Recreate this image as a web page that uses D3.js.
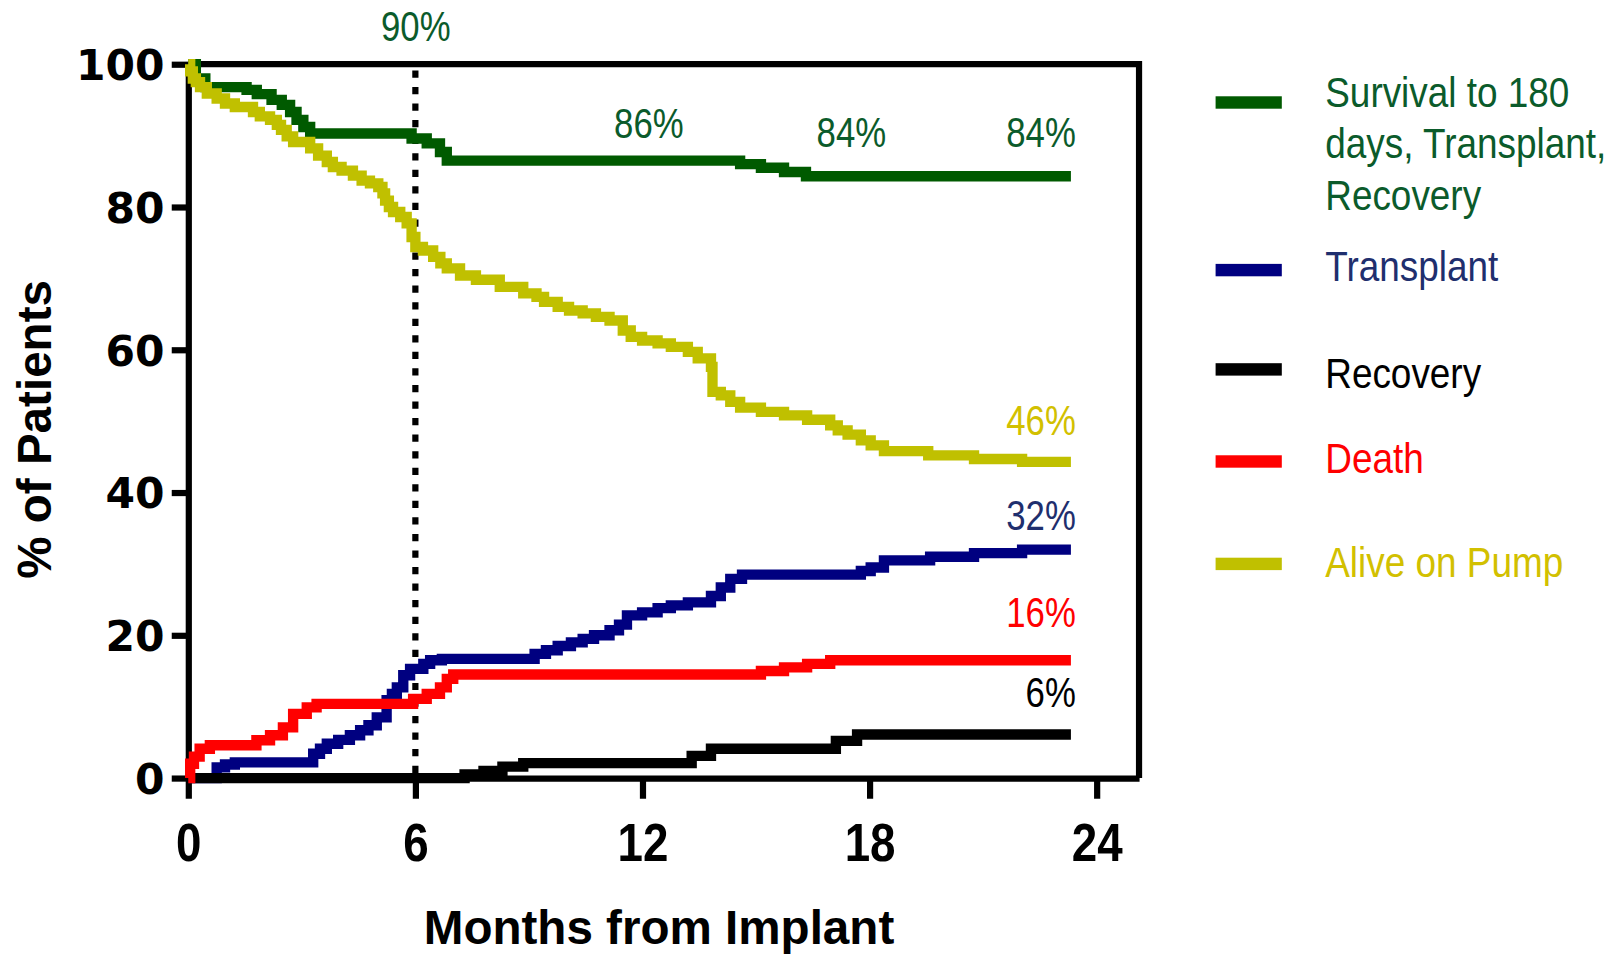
<!DOCTYPE html>
<html lang="en">
<head>
<meta charset="UTF-8">
<title>Outcomes after implant</title>
<style>
  body { margin: 0; background: #fff; }
  svg { display: block; }
</style>
</head>
<body>
<script src="https://cdn.jsdelivr.net/npm/d3@7/dist/d3.min.js"></script>
<div id="chart"></div>
<script>
// tick values
const xTicks = [0, 6, 12, 18, 24];
const yTicks = [0, 20, 40, 60, 80, 100];

// curves: [month, % of patients]
const survival = [[0,100],[0.2,98],[0.45,96.8],[1.54,96.4],[1.81,95.8],[2.2,95.0],[2.47,94.3],[2.69,93.3],[2.86,92.2],[3.04,91.2],[3.22,90.3],[5.9,89.6],[6.3,88.9],[6.65,87.7],[6.83,86.5],[14.58,86.0],[15.13,85.5],[15.74,84.9],[16.32,84.3],[23.32,84.3]];
const transplant = [[0,0],[0.75,1.5],[0.97,1.9],[1.23,2.2],[3.3,3.4],[3.48,4.1],[3.66,4.8],[3.96,5.35],[4.27,6.0],[4.54,6.7],[4.76,7.4],[4.98,8.5],[5.24,10.9],[5.38,11.8],[5.51,12.7],[5.68,14.4],[5.86,15.3],[6.21,16.0],[6.39,16.5],[6.7,16.7],[9.15,17.4],[9.45,17.9],[9.76,18.5],[10.11,19.0],[10.42,19.5],[10.72,20.0],[11.13,20.7],[11.38,21.5],[11.59,22.8],[11.99,23.2],[12.4,23.8],[12.75,24.2],[13.2,24.6],[13.81,25.5],[14.07,26.7],[14.32,27.9],[14.63,28.5],[17.77,29.0],[18.03,29.5],[18.38,30.5],[19.6,31.0],[20.76,31.5],[22.03,32.0],[23.32,32.0]];
const recovery = [[0,0],[7.3,0.5],[7.8,1.0],[8.3,1.6],[8.85,2.1],[13.3,3.1],[13.81,4.1],[17.11,5.2],[17.67,6.1],[23.32,6.1]];
const death = [[0,0],[0.05,2],[0.15,3],[0.3,4.1],[0.57,4.6],[1.8,5.3],[2.16,6.0],[2.5,7.1],[2.77,9.0],[3.13,9.9],[3.39,10.4],[5.94,11.1],[6.3,11.8],[6.65,12.7],[6.83,13.9],[7.0,14.5],[15.13,15.0],[15.74,15.5],[16.35,16.0],[16.96,16.5],[23.32,16.5]];
const alive = [[0,100],[0.05,99],[0.12,98],[0.2,97.5],[0.31,96.8],[0.49,95.9],[0.75,95.2],[0.97,94.5],[1.23,94.0],[1.71,93.3],[1.89,92.7],[2.16,92.2],[2.34,91.5],[2.45,90.8],[2.6,89.9],[2.77,89.1],[3.22,88.2],[3.43,87.2],[3.66,86.3],[3.82,85.6],[4.05,85.1],[4.35,84.4],[4.58,83.7],[4.8,83.3],[5.02,82.8],[5.13,81.9],[5.2,80.9],[5.3,80.0],[5.41,79.3],[5.6,78.6],[5.77,77.7],[5.9,75.8],[6.0,74.4],[6.2,73.9],[6.47,73.0],[6.66,72.1],[6.83,71.4],[7.18,70.4],[7.6,69.8],[8.23,68.8],[8.85,67.9],[9.2,67.4],[9.4,66.7],[9.76,66.0],[10.06,65.5],[10.42,65.1],[10.77,64.6],[11.13,64.1],[11.48,62.7],[11.69,61.8],[11.99,61.3],[12.4,60.9],[12.75,60.4],[13.2,59.7],[13.46,58.8],[13.81,57.6],[13.85,54.1],[14.07,53.6],[14.32,52.7],[14.58,51.9],[15.13,51.3],[15.74,50.8],[16.35,50.2],[16.96,49.4],[17.16,48.7],[17.42,48.1],[17.77,47.3],[18.03,46.6],[18.38,45.8],[19.55,45.2],[20.76,44.7],[22.03,44.3],[23.32,44.3]];

// percentage call-outs: text, month, % (anchor point)
const callouts = [
  ["90%", 6.01, 103.2, "middle", "green"],
  ["86%", 12.17, 89.6, "middle", "green"],
  ["84%", 17.52, 88.4, "middle", "green"],
  ["84%", 23.45, 88.4, "end", "green"],
  ["46%", 23.45, 48.0, "end", "alive"],
  ["32%", 23.45, 34.8, "end", "transplant"],
  ["16%", 23.45, 21.2, "end", "death"],
  ["6%", 23.45, 10.0, "end", "recovery"]
];

const legendLabels = [
  ["Survival to 180", "days, Transplant,", "Recovery"],
  ["Transplant"],
  ["Recovery"],
  ["Death"],
  ["Alive on Pump"]
];

// colours
const lineColor = {green: "#005a00", transplant: "#000080", recovery: "#000000", death: "#ff0000", alive: "#c0c000"};
const textColor = {green: "#0b5b2b", transplant: "#1f2f6e", recovery: "#000000", death: "#ff0000", alive: "#d2c000"};

// drawn in the picture's own scale, then stretched to the window
const W = 1563, H = 922;
const svg = d3.select("#chart").append("svg")
  .attr("width", 1617).attr("height", 954)
  .attr("viewBox", `0 0 ${W} ${H}`);

const x = d3.scaleLinear().domain([0, 25.12]).range([182, 1101]);
const y = d3.scaleLinear().domain([0, 100]).range([752, 62]);

const narrow = "'Liberation Sans', Arial, sans-serif";

// frame (top and right)
svg.append("path")
  .attr("d", `M${x(0)},${y(100)}H${x(25.12)}V${y(0)}`)
  .attr("fill", "none").attr("stroke", "#000").attr("stroke-width", 6);

// 6 month marker
svg.append("line")
  .attr("x1", x(6)).attr("x2", x(6))
  .attr("y1", y(100) + 6).attr("y2", y(0))
  .attr("stroke", "#000").attr("stroke-width", 6)
  .attr("stroke-dasharray", "7,9");

// y axis
const yAxis = svg.append("g")
  .attr("transform", `translate(${x(0)},0)`)
  .call(d3.axisLeft(y).tickValues(yTicks).tickSize(16).tickSizeOuter(0).tickPadding(7));
yAxis.select(".domain").attr("stroke-width", 6);
yAxis.selectAll(".tick line").attr("stroke-width", 6);
yAxis.selectAll(".tick text")
  .attr("font-family", "'DejaVu Sans', sans-serif")
  .attr("font-weight", "bold")
  .attr("font-size", 41)
  .attr("dy", "0.36em")
  .attr("fill", "#000");

// x axis
const xAxis = svg.append("g")
  .attr("transform", `translate(0,${y(0)})`)
  .call(d3.axisBottom(x).tickValues(xTicks).tickSize(20).tickSizeOuter(0));
xAxis.select(".domain").attr("stroke-width", 6);
xAxis.selectAll(".tick line").attr("stroke-width", 6);
xAxis.selectAll(".tick text")
  .attr("y", 0).attr("dy", 0)
  .attr("transform", "translate(0,80) scale(0.85,1)")
  .attr("font-family", narrow)
  .attr("font-weight", "bold")
  .attr("font-size", 52)
  .attr("fill", "#000");

// axis titles
svg.append("text")
  .attr("transform", `translate(49,415) rotate(-90)`)
  .attr("text-anchor", "middle")
  .attr("font-family", narrow).attr("font-weight", "bold").attr("font-size", 46)
  .text("% of Patients");
svg.append("text")
  .attr("x", 637).attr("y", 912)
  .attr("text-anchor", "middle")
  .attr("font-family", narrow).attr("font-weight", "bold").attr("font-size", 46)
  .text("Months from Implant");

// curves
const line = d3.line().x(d => x(d[0])).y(d => y(d[1])).curve(d3.curveStepAfter);
const curves = [[survival, "green"], [transplant, "transplant"], [recovery, "recovery"], [death, "death"], [alive, "alive"]];
svg.append("g").selectAll("path")
  .data(curves)
  .join("path")
  .attr("d", d => line(d[0]))
  .attr("fill", "none")
  .attr("stroke", d => lineColor[d[1]])
  .attr("stroke-width", 10)
  .attr("stroke-linejoin", "miter");

// call-outs
svg.append("g").selectAll("text")
  .data(callouts)
  .join("text")
  .attr("transform", d => `translate(${x(d[1])},${y(d[2])}) scale(0.82,1)`)
  .attr("text-anchor", d => d[3])
  .attr("font-family", narrow).attr("font-size", 41)
  .attr("fill", d => textColor[d[4]])
  .text(d => d[0]);

// legend
const legendKeys = ["green", "transplant", "recovery", "death", "alive"];
const swatchY = [99, 261, 357, 446, 545];
const labelY = [103, 272, 375, 457.5, 557.5];
const legend = svg.append("g");
legendKeys.forEach((k, i) => {
  legend.append("rect")
    .attr("x", 1175).attr("y", swatchY[i] - 6)
    .attr("width", 64).attr("height", 12)
    .attr("fill", lineColor[k]);
  legendLabels[i].forEach((t, j) => {
    legend.append("text")
      .attr("transform", `translate(1281,${labelY[i] + j * 50}) scale(0.87,1)`)
      .attr("font-family", narrow).attr("font-size", 41)
      .attr("fill", textColor[k])
      .text(t);
  });
});
</script>
</body>
</html>
